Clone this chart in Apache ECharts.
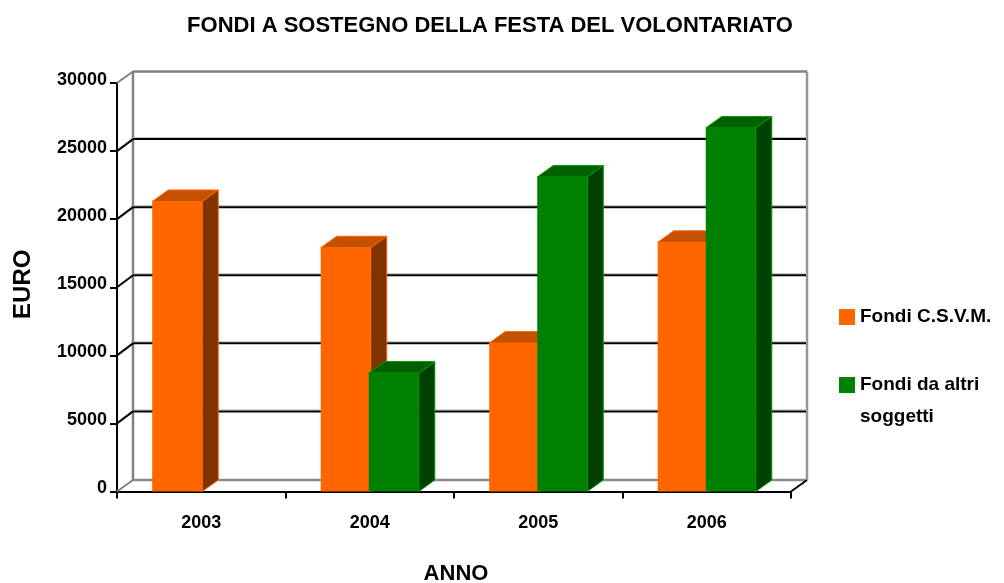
<!DOCTYPE html>
<html><head><meta charset="utf-8">
<style>html,body{margin:0;padding:0;background:#fff}#c{width:1004px;height:583px}</style>
<script src="https://cdn.jsdelivr.net/npm/echarts@6/dist/echarts.min.js"></script>
</head><body><div id="c"></div>
<script>
const years = ['2003','2004','2005','2006'];
const fondiCSVM = [21300,17900,10900,18300];
const fondiAltri = [null,8700,23100,26700];
const gridTicks = [0,5000,10000,15000,20000,25000,30000];
const DX = 16, DY = -11.5;
const FONT = '"Liberation Sans", Arial, sans-serif';
const chart = echarts.init(document.getElementById('c'), null, {renderer:'canvas'});

function line(x1,y1,x2,y2,color,w){
  return {type:'line',shape:{x1,y1,x2,y2},style:{stroke:color,lineWidth:w,fill:null}};
}
function wall(params, api){
  const cs = params.coordSys, v = api.value(0), y = api.coord([0,v])[1];
  const L = cs.x, R = cs.x+cs.width, ch = [];
  if (v === 0) {
    ch.push(line(L+DX,y+DY,R+DX,y+DY,'#8c8c8c',2.5));
    ch.push(line(L,y,L+DX,y+DY,'#808080',2));
    ch.push(line(R,y,R+DX,y+DY,'#000',2));
    const top = cs.y+DY;
    ch.push(line(L+DX,top,L+DX,y+DY,'#808080',2.5));
    ch.push(line(R+DX,top,R+DX,y+DY,'#969696',2.5));
  } else if (v === gridTicks[gridTicks.length-1]) {
    ch.push(line(L+DX,y+DY,R+DX,y+DY,'#808080',2.5));
    ch.push(line(L,y,L+DX,y+DY,'#808080',2));
  } else {
    ch.push(line(L+DX,y+DY-2,R+DX,y+DY-2,'#bbb',1));
    ch.push(line(L+DX,y+DY-0.5,R+DX-1,y+DY-0.5,'#000',2));
    ch.push(line(L,y,L+DX,y+DY-0.5,'#000',2));
  }
  return {type:'group',children:ch};
}
function bar3d(shift, front, top, side, edge){
  return function(params, api){
    const i = api.value(0), val = api.value(1);
    const t = api.coord([i,val]), b = api.coord([i,0]);
    const w = api.size([1,0])[0]*0.297;
    const x1 = t[0]+shift*w+(shift<0?1:-1), x2 = x1+w, y1 = t[1], y0 = b[1];
    const poly = (pts,fill)=>({type:'polygon',shape:{points:pts},style:{fill,stroke:edge,lineWidth:1}});
    return {type:'group',children:[
      poly([[x1,y1],[x1+DX,y1+DY],[x2+DX,y1+DY],[x2,y1]],top),
      poly([[x2,y1],[x2+DX,y1+DY],[x2+DX,y0+DY],[x2,y0]],side),
      {type:'rect',shape:{x:x1,y:y1,width:w,height:y0-y1},style:{fill:front}}
    ]};
  };
}
const toData = arr => arr.map((v,i)=>[i,v]).filter(d=>d[1]!==null);
chart.setOption({
  animation:false,
  backgroundColor:'#fff',
  title:{text:'FONDI A SOSTEGNO DELLA FESTA DEL VOLONTARIATO',left:485,top:10,textAlign:'center',
    textStyle:{fontFamily:FONT,fontWeight:'bold',fontSize:22,color:'#000'}},
  grid:{left:117,right:213,top:83,bottom:91.5,containLabel:false,outerBoundsMode:'none'},
  legend:{orient:'vertical',left:839,top:301,padding:0,itemWidth:16,itemHeight:16,itemGap:4,icon:'rect',
    data:['Fondi C.S.V.M.','Fondi da altri soggetti'],
    formatter:n=>n==='Fondi da altri soggetti'?'\nFondi da altri\nsoggetti':n,
    textStyle:{fontFamily:FONT,fontWeight:'bold',fontSize:19,color:'#000',lineHeight:32}},
  xAxis:{type:'category',data:years,boundaryGap:true,
    axisLine:{show:true,onZero:false,lineStyle:{color:'#000',width:2}},
    axisTick:{show:true,alignWithLabel:false,length:7,lineStyle:{color:'#000',width:2}},
    axisLabel:{fontFamily:FONT,fontWeight:'bold',fontSize:18,color:'#000',margin:23},
    splitLine:{show:false},
    name:'ANNO',nameLocation:'middle',nameGap:71,
    nameTextStyle:{fontFamily:FONT,fontWeight:'bold',fontSize:22,color:'#000',padding:[0,0,0,4]}},
  yAxis:{type:'value',min:0,max:30000,interval:5000,
    axisLine:{show:true,lineStyle:{color:'#000',width:2}},
    axisTick:{show:true,length:7,lineStyle:{color:'#000',width:2}},
    axisLabel:{fontFamily:FONT,fontWeight:'bold',fontSize:18,color:'#000',margin:10,verticalAlign:'bottom',lineHeight:6,formatter:v=>String(v)},
    splitLine:{show:false},
    name:'EURO',nameLocation:'middle',nameGap:82,nameRotate:90,
    nameTextStyle:{fontFamily:FONT,fontWeight:'bold',fontSize:24,color:'#000',padding:[0,0,0,6]}},
  tooltip:{show:false},
  series:[
    {type:'custom',name:'wall',silent:true,z:1,renderItem:wall,data:gridTicks.map(v=>[v]),encode:{y:0}},
    {type:'custom',name:'Fondi C.S.V.M.',z:2,itemStyle:{color:'#FF6600'},encode:{x:0,y:1},
      renderItem:bar3d(-1,'#FF6600','#C45000','#803300','#FF6600'),data:toData(fondiCSVM)},
    {type:'custom',name:'Fondi da altri soggetti',z:3,itemStyle:{color:'#008000'},encode:{x:0,y:1},
      renderItem:bar3d(0,'#008000','#006000','#004000','#00A000'),data:toData(fondiAltri)}
  ]
});
</script></body></html>
